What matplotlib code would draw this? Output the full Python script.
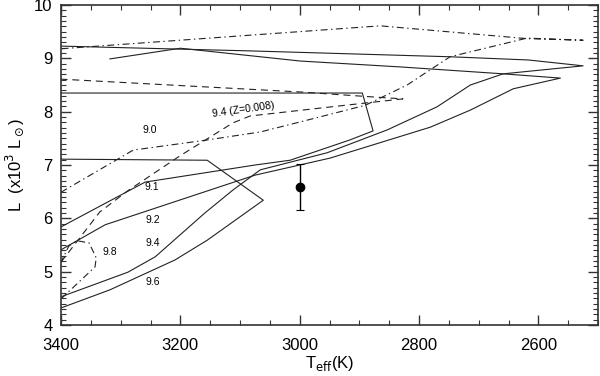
import numpy as np
import matplotlib
matplotlib.use("Agg")
from matplotlib import pyplot as plt
from matplotlib.ticker import MultipleLocator

plt.rcParams['font.family'] = ['Liberation Sans', 'DejaVu Sans']
plt.rcParams['lines.scale_dashes'] = False

# isochrones, solar metallicity (Teff [K], L [1e3 Lsun])
t_96 = [3400, 3318, 3209, 3155, 3061, 3155, 3400]
l_96 = [4.32, 4.66, 5.22, 5.59, 6.34, 7.09, 7.11]

t_94 = [3400, 3288, 3242, 3159, 3112, 3066, 2954, 2853, 2770, 2714, 2659, 2525, 2617, 2748, 3083, 3400]
l_94 = [4.53, 4.99, 5.28, 6.10, 6.53, 6.91, 7.23, 7.66, 8.09, 8.50, 8.71, 8.86, 8.97, 9.03, 9.14, 9.23]

t_92 = [3400, 3326, 3075, 2949, 2781, 2714, 2642, 2563, 2659, 2832, 2999, 3200, 3318]
l_92 = [5.41, 5.88, 6.81, 7.13, 7.71, 8.03, 8.43, 8.63, 8.71, 8.84, 8.95, 9.19, 8.99]

t_91 = [3400, 3259, 3075, 3016, 2916, 2877, 2895, 3400]
l_91 = [5.84, 6.68, 7.00, 7.09, 7.47, 7.64, 8.35, 8.35]

t_90 = [3400, 3279, 3155, 3066, 2988, 2890, 2820, 2748, 2619, 2525, 2619, 2865, 3400]
l_90 = [6.49, 7.28, 7.47, 7.62, 7.84, 8.12, 8.50, 9.03, 9.38, 9.34, 9.37, 9.61, 9.18]

t_98 = [3400, 3343, 3341, 3353, 3373, 3387, 3400]
l_98 = [4.49, 5.09, 5.26, 5.54, 5.58, 5.48, 5.18]

# 9.4 isochrone, Z=0.008
t_z = [3400, 3335, 3289, 3201, 3112, 3083, 2916, 2827, 2895, 2999, 3400]
l_z = [5.18, 6.12, 6.51, 7.17, 7.79, 7.92, 8.13, 8.24, 8.29, 8.37, 8.61]

# observed star
t_obs = [3000]
l_obs = [6.58]
l_err = [0.43]

labels = ['9.0', '9.1', '9.2', '9.4', '9.6', '9.8']
lab_t = [3251, 3247, 3246, 3246, 3246, 3318]
lab_l = [7.66, 6.59, 5.97, 5.54, 4.81, 5.37]

fig = plt.figure(figsize=(6, 3.76), dpi=100)
ax = fig.add_axes([0.1017, 0.1356, 0.895, 0.851])

lc = '#222222'
lw = 0.8
ax.plot(t_96, l_96, '-', color=lc, lw=lw)
ax.plot(t_94, l_94, '-', color=lc, lw=lw)
ax.plot(t_92, l_92, '-', color=lc, lw=lw)
ax.plot(t_91, l_91, '-', color=lc, lw=lw)
ax.plot(t_90, l_90, color=lc, lw=lw, dashes=(5, 2.5, 1, 2.5))
ax.plot(t_98, l_98, color=lc, lw=lw, dashes=(5, 2.5, 1, 2.5))
ax.plot(t_z, l_z, color=lc, lw=lw, dashes=(5, 3.5))

ax.errorbar(t_obs, l_obs, yerr=l_err, fmt='o', color='k', ms=6,
            elinewidth=1, capsize=3, capthick=0.8)

for s, t, l in zip(labels, lab_t, lab_l):
    ax.text(t, l, s, fontsize=7.5, ha='center', va='center')
ax.text(3095, 8.03, '9.4 (Z=0.008)', fontsize=7.5, ha='center', va='center',
        rotation=8)

ax.set_xlim(3400, 2500)
ax.set_ylim(4, 10)
ax.xaxis.set_major_locator(MultipleLocator(200))
ax.xaxis.set_minor_locator(MultipleLocator(50))
ax.yaxis.set_major_locator(MultipleLocator(1))
ax.yaxis.set_minor_locator(MultipleLocator(0.1))
ax.tick_params(which='both', direction='in', top=True, right=True,
               labelsize=12, color='#333333')
ax.tick_params(which='major', length=7, width=1)
ax.tick_params(which='minor', length=3.5, width=0.8)
ax.tick_params(axis='x', which='major', pad=9)
ax.tick_params(axis='y', which='major', pad=6)
for sp in ax.spines.values():
    sp.set_linewidth(1.2)
    sp.set_color('#333333')

ax.set_xlabel(r'T$_{\rm eff}$(K)', fontsize=12, labelpad=1)
ax.set_ylabel(r'L  (x10$^3$ L$_\odot$)', fontsize=12, labelpad=6)

fig.savefig('out.png', dpi=100)
